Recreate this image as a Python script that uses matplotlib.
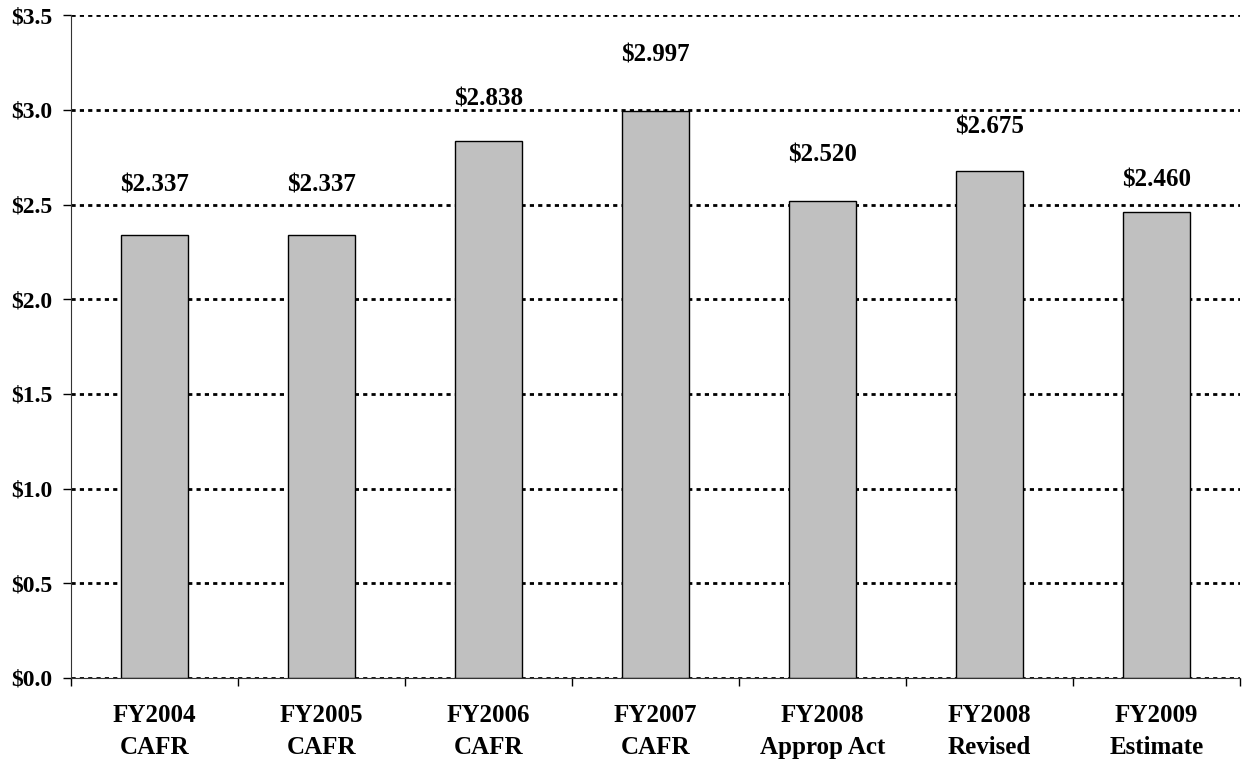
import matplotlib
matplotlib.use("Agg")
import matplotlib.pyplot as plt
import numpy as np

categories = ["FY2004\nCAFR", "FY2005\nCAFR", "FY2006\nCAFR", "FY2007\nCAFR",
              "FY2008\nApprop Act", "FY2008\nRevised", "FY2009\nEstimate"]
values = [2.337, 2.337, 2.838, 2.997, 2.520, 2.675, 2.460]
yticks = [0.0, 0.5, 1.0, 1.5, 2.0, 2.5, 3.0, 3.5]

# label offsets above bar tops (points), as placed in the original
label_offsets = [36, 36, 30, 40, 33, 32, 23]

plt.rcParams['font.family'] = ['Liberation Serif', 'DejaVu Serif']
plt.rcParams['font.weight'] = 'bold'

fig = plt.figure(figsize=(12.43, 7.64), dpi=100)
ax = fig.add_axes([0.057, 0.1126, 0.9406, 0.8674])

x = np.arange(len(categories))
ax.bar(x, values, width=0.4, color='#C0C0C0', edgecolor='black', linewidth=1, zorder=3)

for xi, v, off in zip(x, values, label_offsets):
    ax.annotate('${:.3f}'.format(v), (xi, v), xytext=(0, off), textcoords='offset points',
                ha='center', va='center', fontsize=18, fontweight='bold')

ax.set_ylim(0, 3.5)
ax.set_xlim(-0.5, len(categories) - 0.5)
ax.set_yticks(yticks)
ax.set_yticklabels(['${:.1f}'.format(t) for t in yticks], fontsize=17, fontweight='bold')
ax.yaxis.grid(True, color='black', linestyle=(0, (1.5, 1.5)), linewidth=2, zorder=0)
ax.set_axisbelow(True)

ax.set_xticks(x)
ax.set_xticklabels(categories, fontsize=18, fontweight='bold', linespacing=1.5)
ax.set_xticks(np.arange(len(categories) + 1) - 0.5, minor=True)
ax.tick_params(axis='x', which='major', length=0, pad=19)
ax.tick_params(axis='x', which='minor', length=6, width=1)
ax.tick_params(axis='y', length=6, width=1, pad=7)

ax.spines['top'].set_visible(False)
ax.spines['right'].set_visible(False)
ax.spines['left'].set_color('#333333')
ax.spines['bottom'].set_color('#333333')
ax.spines['bottom'].set_zorder(4)

fig.savefig('out.png', dpi=100)
